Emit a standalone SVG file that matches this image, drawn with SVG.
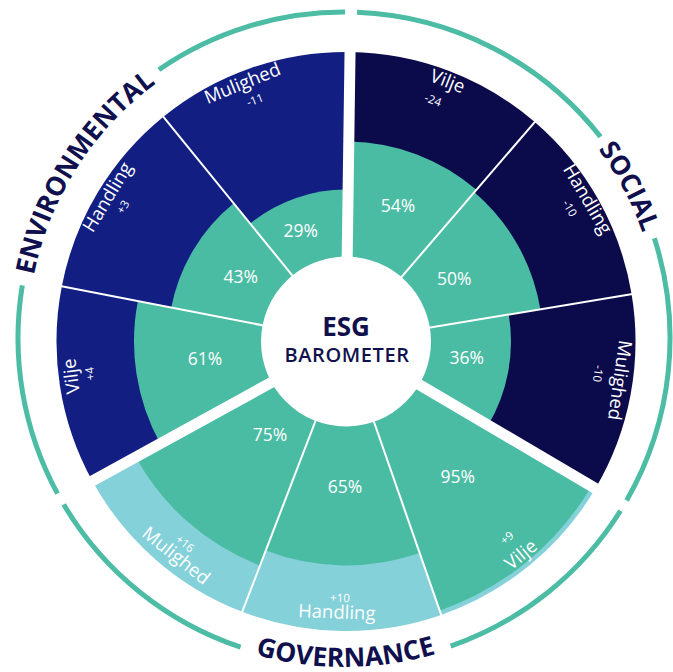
<svg xmlns="http://www.w3.org/2000/svg" xmlns:xlink="http://www.w3.org/1999/xlink" width="673" height="672" viewBox="0 0 673 672">
<style>
.env{fill:#121e82}
.soc{fill:#0b0a4b}
.gov{fill:#85d1d9}
.val{fill:#4bbca4}
.ring{fill:none;stroke:#4cbca4;stroke-width:5}
.sep{stroke:#fff;stroke-width:2}
.gap{stroke:#fff;stroke-width:11}
text{font-family:'Open Sans','Liberation Sans',sans-serif;fill:#fff;text-anchor:middle}
.name{font-size:18.5px}
.num{font-size:11.5px}
.pct{font-size:17.5px}
.pillar{font-size:26.5px;font-weight:700;fill:#0f104d}
.ctr{fill:#10114c}
</style>
<defs>
<path id="pEnv" d="M32.3,393.0 A316.5,316.5 0 0 1 262.1,32.3"/>
<path id="pSoc" d="M452.2,40.6 A316.5,316.5 0 0 1 651.1,414.6"/>
<path id="pGov" d="M134.0,591.2 A329,329 0 0 0 556.5,589.0"/>
</defs>
<rect width="673" height="672" fill="#fff"/>
<g id="ring">
<path class="ring" d="M158.9,69.7 A326,326 0 0 1 345.1,12.0"/>
<path class="ring" d="M57.5,493.6 A326,326 0 0 1 22.3,285.3"/>
<path class="ring" d="M240.6,647.2 A326,326 0 0 1 63.7,504.5"/>
<path class="ring" d="M620.5,510.8 A326,326 0 0 1 450.7,646.1"/>
<path class="ring" d="M654.4,238.3 A326,326 0 0 1 626.6,500.5"/>
<path class="ring" d="M357.1,12.3 A326,326 0 0 1 600.5,136.8"/>
</g>
<g id="env-mulighed">
<path class="env" d="M346,341.5 L350.04,52.03 A289.5,289.5 0 0 0 163.42,116.83 Z"/>
<path class="val" d="M346,341.5 L348.12,189.51 A152,152 0 0 0 250.14,223.54 Z"/>
<text class="name" transform="translate(243,85) rotate(-22)" y="4.5">Mulighed</text>
<text class="num" transform="translate(255,100) rotate(-20.6)" y="4">-11</text>
<text class="pct" x="300.8" y="236.8">29%</text>
</g>
<g id="env-handling">
<path class="env" d="M346,341.5 L163.42,116.83 A289.5,289.5 0 0 0 61.82,286.26 Z"/>
<path class="val" d="M346,341.5 L233.74,203.36 A178,178 0 0 0 171.27,307.54 Z"/>
<text class="name" transform="translate(109,198) rotate(-58.8)" y="4.5">Handling</text>
<text class="num" transform="translate(123,207) rotate(-58.9)" y="4">+3</text>
<text class="pct" x="240.8" y="282.7">43%</text>
</g>
<g id="env-vilje">
<path class="env" d="M346,341.5 L61.82,286.26 A289.5,289.5 0 0 0 92.31,480.97 Z"/>
<path class="val" d="M346,341.5 L137.89,301.05 A212,212 0 0 0 160.22,443.63 Z"/>
<text class="name" transform="translate(73,376) rotate(-97.2)" y="4.5">Vilje</text>
<text class="num" transform="translate(90,373.7) rotate(-97.2)" y="4">+4</text>
<text class="pct" x="205" y="364.7">61%</text>
</g>
<g id="gov-mulighed">
<path class="gov" d="M346,341.5 L92.31,480.97 A289.5,289.5 0 0 0 242.25,611.77 Z"/>
<path class="val" d="M346,341.5 L135.69,457.12 A240,240 0 0 0 259.99,565.56 Z"/>
<text class="name" transform="translate(175,557) rotate(38.4)" y="4.5">Mulighed</text>
<text class="num" transform="translate(185,543.7) rotate(38.5)" y="4">+16</text>
<text class="pct" x="270" y="440.5">75%</text>
</g>
<g id="gov-handling">
<path class="gov" d="M346,341.5 L242.25,611.77 A289.5,289.5 0 0 0 441.21,614.90 Z"/>
<path class="val" d="M346,341.5 L265.73,550.62 A224,224 0 0 0 419.67,553.04 Z"/>
<text class="name" transform="translate(336.7,614) rotate(2)" y="4.5">Handling</text>
<text class="num" transform="translate(340,598) rotate(1.3)" y="4">+10</text>
<text class="pct" x="345" y="493">65%</text>
</g>
<g id="gov-vilje">
<path class="gov" d="M346,341.5 L441.21,614.90 A289.5,289.5 0 0 0 595.44,488.43 Z"/>
<path class="val" d="M346,341.5 L439.73,610.65 A285,285 0 0 0 591.56,486.15 Z"/>
<text class="name" transform="translate(522,556) rotate(-39.4)" y="4.5">Vilje</text>
<text class="num" transform="translate(507,538) rotate(-39.3)" y="4">+9</text>
<text class="pct" x="457.7" y="483">95%</text>
</g>
<g id="soc-mulighed">
<path class="soc" d="M346,341.5 L595.44,488.43 A289.5,289.5 0 0 0 631.61,294.22 Z"/>
<path class="val" d="M346,341.5 L488.17,425.24 A165,165 0 0 0 508.78,314.55 Z"/>
<text class="name" transform="translate(618,380) rotate(98.1)" y="4.5">Mulighed</text>
<text class="num" transform="translate(598,373.7) rotate(97.3)" y="4">-10</text>
<text class="pct" x="466.8" y="363.8">36%</text>
</g>
<g id="soc-handling">
<path class="soc" d="M346,341.5 L631.61,294.22 A289.5,289.5 0 0 0 534.78,122.02 Z"/>
<path class="val" d="M346,341.5 L540.35,309.32 A197,197 0 0 0 474.46,192.15 Z"/>
<text class="name" transform="translate(586,200) rotate(59.5)" y="4.5">Handling</text>
<text class="num" transform="translate(569.7,208.3) rotate(59.2)" y="4">-10</text>
<text class="pct" x="454.3" y="285.2">50%</text>
</g>
<g id="soc-vilje">
<path class="soc" d="M346,341.5 L534.78,122.02 A289.5,289.5 0 0 0 350.04,52.03 Z"/>
<path class="val" d="M346,341.5 L476.42,189.87 A200,200 0 0 0 348.79,141.52 Z"/>
<text class="name" transform="translate(447,83) rotate(21.3)" y="4.5">Vilje</text>
<text class="num" transform="translate(433,100) rotate(19.8)" y="4">-24</text>
<text class="pct" x="398" y="211.8">54%</text>
</g>
<g id="connectors">
<line class="sep" x1="346" y1="341.5" x2="159.95" y2="112.57"/>
<line class="sep" x1="346" y1="341.5" x2="56.42" y2="285.21"/>
<line class="sep" x1="346" y1="341.5" x2="240.28" y2="616.91"/>
<line class="sep" x1="346" y1="341.5" x2="443.02" y2="620.09"/>
<line class="sep" x1="346" y1="341.5" x2="637.04" y2="293.32"/>
<line class="sep" x1="346" y1="341.5" x2="538.37" y2="117.85"/>
<line class="gap" x1="346" y1="341.5" x2="350.19" y2="41.53"/>
<line class="gap" x1="346" y1="341.5" x2="83.11" y2="486.03"/>
<line class="gap" x1="346" y1="341.5" x2="604.49" y2="493.76"/>
</g>
<g id="center">
<circle cx="346" cy="341.5" r="85" fill="#fff"/>
<text class="ctr" x="346" y="336" style="font-size:26px;font-weight:700">ESG</text>
<text class="ctr" x="347" y="361.7" style="font-size:20px;font-weight:600;letter-spacing:0.6px">BAROMETER</text>
</g>
<g id="pillar-labels">
<text class="pillar"><textPath xlink:href="#pEnv" href="#pEnv" startOffset="50%">ENVIRONMENTAL</textPath></text>
<text class="pillar"><textPath xlink:href="#pSoc" href="#pSoc" startOffset="50%">SOCIAL</textPath></text>
<text class="pillar"><textPath xlink:href="#pGov" href="#pGov" startOffset="50%">GOVERNANCE</textPath></text>
</g>
</svg>
